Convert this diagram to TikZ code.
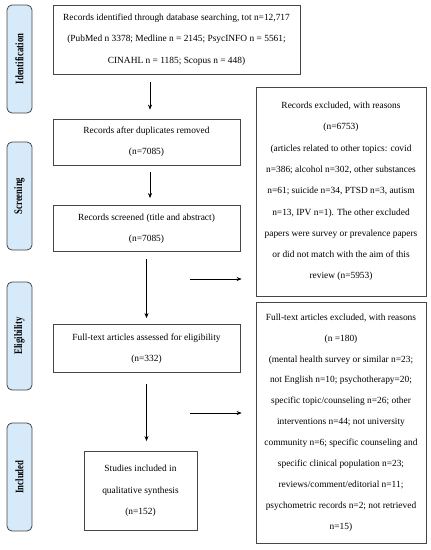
\documentclass[tikz,border=0pt]{standalone}
\usepackage{fontspec}
\setmainfont{Liberation Serif}
\usetikzlibrary{arrows.meta}
\definecolor{stagefill}{RGB}{214,234,250}
\definecolor{boxline}{RGB}{70,70,70}
\tikzset{
  box/.style={draw=boxline, line width=0.8pt, inner sep=0pt, align=center,
    font=\fontsize{9.4}{21.3}\selectfont},
  stage/.style={draw=boxline, line width=0.8pt, fill=stagefill, rounded corners=5pt,
    inner sep=0pt, minimum width=25pt, minimum height=108pt},
  stagetext/.style={rotate=90, xscale=0.76, font=\fontsize{11.5}{13}\selectfont\bfseries},
  arr/.style={draw=black, line width=0.6pt, -{Stealth[length=5pt,width=4pt]}}
}
\begin{document}
\begin{tikzpicture}[x=1pt,y=-1pt]
\useasboundingbox (0,0) rectangle (431,550);
% stages
\node[stage] (s1) at (19.5,59) {};
\node[stagetext] (t1) at (s1.center) {Identification};
\node[stage] (s2) at (19.5,196) {};
\node[stagetext] (t2) at (s2.center) {Screening};
\node[stage] (s3) at (19.5,336) {};
\node[stagetext] (t3) at (s3.center) {Eligibility};
\node[stage] (s4) at (19.5,477) {};
\node[stagetext] (t4) at (s4.center) {Included};
% main boxes
\node[box, minimum width=247pt, minimum height=69pt] (b1) at (176.5,39.5)
  {Records identified through database searching, tot n=12,717\\
   (PubMed n 3378; Medline n = 2145; PsycINFO n = 5561;\\
   CINAHL n = 1185; Scopus n = 448)};
\node[box, minimum width=187pt, minimum height=46pt] (b2) at (146.5,142)
  {Records after duplicates removed\\ (n=7085)};
\node[box, minimum width=187pt, minimum height=46pt] (b3) at (146.5,228.5)
  {Records screened (title and abstract)\\ (n=7085)};
\node[box, minimum width=187pt, minimum height=48pt] (b4) at (146.5,348.5)
  {Full-text articles assessed for eligibility\\ (n=332)};
\node[box, minimum width=113pt, minimum height=79pt] (b5) at (140.5,491)
  {Studies included in\\ qualitative synthesis\\ (n=152)};
% right boxes
\node[box, minimum width=170pt, minimum height=209pt] (r1) at (341,191.5)
  {Records excluded, with reasons\\
   (n=6753)\\
   (articles related to other topics: covid\\
   n=386; alcohol n=302, other substances\\
   n=61; suicide n=34, PTSD n=3, autism\\
   n=13, IPV n=1). The other excluded\\
   papers were survey or prevalence papers\\
   or did not match with the aim of this\\
   review (n=5953)};
\node[box, minimum width=170pt, minimum height=241pt, font=\fontsize{9.4}{20.9}\selectfont] (r2) at (341,422.5)
  {Full-text articles excluded, with reasons\\
   (n =180)\\
   (mental health survey or similar n=23;\\
   not English n=10; psychotherapy=20;\\
   specific topic/counseling n=26; other\\
   interventions n=44; not university\\
   community n=6; specific counseling and\\
   specific clinical population n=23;\\
   reviews/comment/editorial n=11;\\
   psychometric records n=2; not retrieved\\
   n=15)};
% vertical arrows
\draw[arr, shorten <=8pt, shorten >=9pt] ([xshift=3.5pt]b2.north |- b1.south) -- ([xshift=3.5pt]b2.north);
\draw[arr, shorten <=7pt, shorten >=7pt] ([xshift=3.5pt]b2.south) -- ([xshift=3.5pt]b3.north);
\draw[arr, shorten <=7pt, shorten >=6pt] (b3.south) -- (b3.south |- b4.north);
\draw[arr, shorten <=11pt, shorten >=10pt] (b4.south) -- (b4.south |- b5.north);
% horizontal arrows
\coordinate (h1) at (190,279);
\coordinate (h2) at (190,413);
\draw[arr, shorten >=14pt] (h1) -- (h1 -| r1.west);
\draw[arr, shorten >=14pt] (h2) -- (h2 -| r2.west);
\end{tikzpicture}
\end{document}
